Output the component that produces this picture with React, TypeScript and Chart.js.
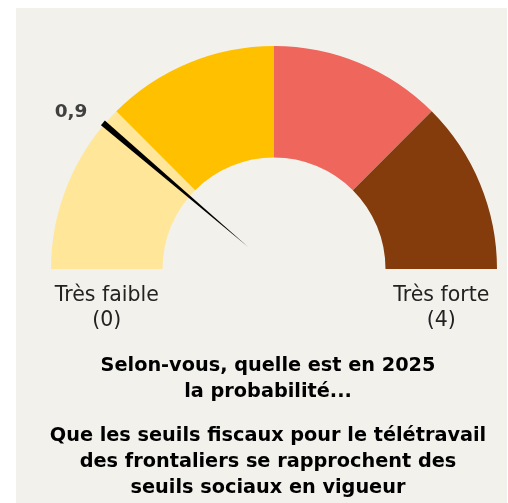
import React, { useEffect, useRef } from "react";
import { Chart, registerables } from "chart.js";

Chart.register(...registerables);

const categories = ["Très faible", "Faible", "Forte", "Très forte"];
const segmentValues = [1, 1, 1, 1];
const segmentColors = ["#FFE699", "#FFC000", "#EE665C", "#843C0C"];
const gaugeValue = 0.9;
const gaugeMax = 4;
const valueLabel = "0,9";
const endLabels = [
  ["Très faible", "(0)"],
  ["Très forte", "(4)"],
];
const titleLines = [
  "Selon-vous, quelle est en 2025",
  "la probabilité...",
  "",
  "Que les seuils fiscaux pour le télétravail",
  "des frontaliers se rapprochent des",
  "seuils sociaux en vigueur",
];

const FONT = '"DejaVu Sans", sans-serif';

const gaugePlugin = {
  id: "gaugeDecor",
  afterDatasetsDraw(chart: any) {
    const meta = chart.getDatasetMeta(0);
    const arcs = meta.data;
    if (!arcs.length) return;
    const first = arcs[0];
    const last = arcs[arcs.length - 1];
    const cx = first.x;
    const cy = first.y;
    const R = first.outerRadius;
    const r = first.innerRadius;
    const start = first.startAngle;
    const end = last.endAngle;
    const ang = start + (gaugeValue / gaugeMax) * (end - start);
    const ctx = chart.ctx;
    ctx.save();
    // needle
    const cos = Math.cos(ang);
    const sin = Math.sin(ang);
    const px = -sin;
    const py = cos;
    const baseR = R + 2;
    const tipR = 34;
    const hw = 3;
    const bx = cx + cos * baseR;
    const by = cy + sin * baseR;
    ctx.beginPath();
    ctx.moveTo(bx + px * hw, by + py * hw);
    ctx.lineTo(bx - px * hw, by - py * hw);
    ctx.lineTo(cx + cos * tipR, cy + sin * tipR);
    ctx.closePath();
    ctx.fillStyle = "#000000";
    ctx.fill();
    // value label
    const tx = cx + cos * R;
    const ty = cy + sin * R;
    ctx.fillStyle = "#404040";
    ctx.font = `bold 18.5px ${FONT}`;
    ctx.textAlign = "right";
    ctx.textBaseline = "alphabetic";
    ctx.fillText(valueLabel, tx - 17, ty - 7);
    // end labels
    const mid = (R + r) / 2;
    ctx.fillStyle = "#222222";
    ctx.font = `20.5px ${FONT}`;
    ctx.textAlign = "center";
    const xs = [cx - mid, cx + mid];
    endLabels.forEach((lines, i) => {
      ctx.fillText(lines[0], xs[i], cy + 32);
      ctx.fillText(lines[1], xs[i], cy + 57);
    });
    // title
    ctx.fillStyle = "#000000";
    ctx.font = `bold 19.3px ${FONT}`;
    let y = cy + 102;
    const tcx = cx - 6;
    titleLines.forEach((line) => {
      if (line === "") {
        y += 18;
        return;
      }
      ctx.fillText(line, tcx, y);
      y += 26;
    });
    ctx.restore();
  },
};

export default function App() {
  const ref = useRef<HTMLCanvasElement | null>(null);
  useEffect(() => {
    if (!ref.current) return;
    const chart = new Chart(ref.current, {
      type: "doughnut",
      data: {
        labels: categories,
        datasets: [
          {
            data: segmentValues,
            backgroundColor: segmentColors,
            borderWidth: 0,
          },
        ],
      },
      options: {
        animation: false,
        responsive: false,
        devicePixelRatio: 1,
        rotation: -90,
        circumference: 180,
        cutout: "50%",
        layout: { padding: { left: 35, top: 38, right: 10, bottom: 234 } },
        plugins: {
          legend: { display: false },
          tooltip: { enabled: false },
          title: { display: false },
        },
      },
      plugins: [gaugePlugin],
    });
    return () => chart.destroy();
  }, []);
  return (
    <div
      style={{
        position: "absolute",
        left: 16,
        top: 8,
        width: 491,
        height: 495,
        background: "#F2F1EC",
      }}
    >
      <canvas ref={ref} width={491} height={495} style={{ display: "block" }} />
    </div>
  );
}
